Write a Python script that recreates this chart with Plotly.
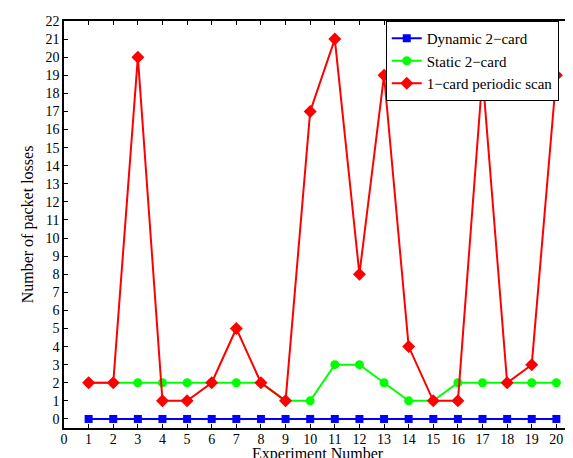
import plotly.graph_objects as go

experiments = list(range(1, 21))
dynamic_2card = [0] * 20
static_2card = [2, 2, 2, 2, 2, 2, 2, 2, 1, 1, 3, 3, 2, 1, 1, 2, 2, 2, 2, 2]
one_card_scan = [2, 2, 20, 1, 1, 2, 5, 2, 1, 17, 21, 8, 19, 4, 1, 1, 19, 2, 3, 19]

x_ticks = list(range(0, 21))
y_ticks = list(range(0, 23))

FONT = "Liberation Serif, Times New Roman, serif"

fig = go.Figure()
fig.add_trace(go.Scatter(
    x=experiments, y=dynamic_2card, mode="lines+markers",
    name="Dynamic 2\u2212card",
    line=dict(color="#0000ff", width=2),
    marker=dict(symbol="square", size=8, color="#0000ff"),
))
fig.add_trace(go.Scatter(
    x=experiments, y=static_2card, mode="lines+markers",
    name="Static 2\u2212card",
    line=dict(color="#00ff00", width=2),
    marker=dict(symbol="circle", size=9, color="#00ff00"),
))
fig.add_trace(go.Scatter(
    x=experiments, y=one_card_scan, mode="lines+markers",
    name="1\u2212card periodic scan",
    line=dict(color="#ff0000", width=2),
    marker=dict(symbol="diamond", size=10, color="#ff0000"),
))

fig.update_layout(
    width=573, height=458,
    margin=dict(l=56, r=0, t=13, b=38),
    paper_bgcolor="white", plot_bgcolor="white",
    font=dict(family=FONT, size=14, color="black"),
    showlegend=True,
    legend=dict(
        x=(379 - 56) / 517, y=1.0, xanchor="left", yanchor="top",
        bgcolor="white", bordercolor="black", borderwidth=1,
        font=dict(family=FONT, size=15), tracegroupgap=0,
        itemwidth=30,
    ),
    xaxis=dict(
        range=[0, 21 * 517 / 519], tickmode="array", tickvals=x_ticks,
        ticktext=[str(v) for v in x_ticks],
        ticks="inside", ticklen=4, tickcolor="black",
        showline=True, linecolor="black", linewidth=1.5, mirror="ticks",
        showgrid=False, zeroline=False,
        tickfont=dict(family=FONT, size=14),
        ticklabelstandoff=-3,
    ),
    yaxis=dict(
        range=[-0.5, 22], tickmode="array", tickvals=y_ticks,
        ticktext=[str(v) for v in y_ticks],
        ticks="inside", ticklen=4, tickcolor="black",
        showline=True, linecolor="black", linewidth=1.5, mirror="ticks",
        showgrid=False, zeroline=False,
        tickfont=dict(family=FONT, size=14),
        title=dict(text="Number of packet losses", font=dict(family=FONT, size=16), standoff=8),
    ),
    annotations=[dict(
        text="Experiment Number", xref="paper", yref="paper",
        x=(311 - 56) / 517, y=-(446 - 420) / 407, xanchor="center", yanchor="middle",
        showarrow=False, font=dict(family=FONT, size=16),
    )],
)

fig.write_html("out.html")
